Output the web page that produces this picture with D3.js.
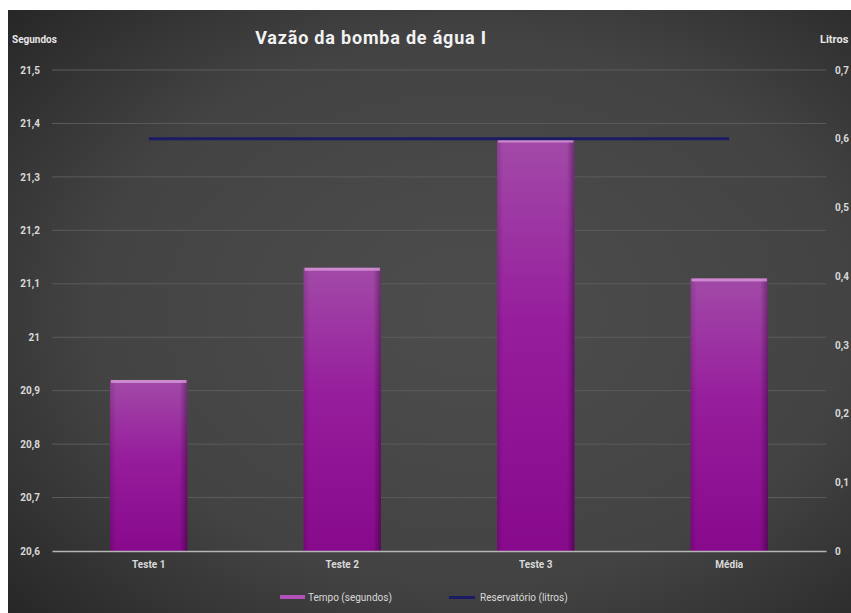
<!DOCTYPE html>
<html><head><meta charset="utf-8">
<script src="https://cdn.jsdelivr.net/npm/d3@7"></script>
<style>body{margin:0;background:#fff;}svg{display:block;}</style>
</head><body><svg id="c" width="851" height="613"></svg>
<script>
const categories = ["Teste 1","Teste 2","Teste 3","Média"];
const tempo = [20.92, 21.13, 21.37, 21.11];
const reservatorio = [0.6, 0.6, 0.6, 0.6];
const leftTicks = [20.6,20.7,20.8,20.9,21,21.1,21.2,21.3,21.4,21.5];
const rightTicks = [0,0.1,0.2,0.3,0.4,0.5,0.6,0.7];
const title = "Vazão da bomba de água I";

const svg = d3.select("#c");
const defs = svg.append("defs");
const bg = defs.append("radialGradient").attr("id","bg").attr("cx","55%").attr("cy","50%").attr("r","75%");
bg.append("stop").attr("offset","0%").attr("stop-color","#4d4d4d");
bg.append("stop").attr("offset","60%").attr("stop-color","#434343");
bg.append("stop").attr("offset","100%").attr("stop-color","#262626");
const bar = defs.append("linearGradient").attr("id","bar").attr("x1",0).attr("y1",0).attr("x2",0).attr("y2",1);
bar.append("stop").attr("offset","0%").attr("stop-color","#a24aa8");
bar.append("stop").attr("offset","45%").attr("stop-color","#961d9c");
bar.append("stop").attr("offset","100%").attr("stop-color","#870a8c");
const side = defs.append("linearGradient").attr("id","side").attr("x1",0).attr("y1",0).attr("x2",1).attr("y2",0);
side.append("stop").attr("offset","0%").attr("stop-color","#000").attr("stop-opacity",0.15);
side.append("stop").attr("offset","8%").attr("stop-color","#000").attr("stop-opacity",0);
side.append("stop").attr("offset","90%").attr("stop-color","#000").attr("stop-opacity",0);
side.append("stop").attr("offset","100%").attr("stop-color","#000").attr("stop-opacity",0.35);

svg.append("rect").attr("x",8).attr("y",10).attr("width",843).attr("height",603).attr("fill","url(#bg)");

const x0 = 52, x1 = 826, yTop = 70, yBot = 551;
const x = d3.scaleBand().domain(categories).range([x0,x1]).paddingInner(0.6).paddingOuter(0.3);
const yL = d3.scaleLinear().domain([20.6,21.5]).range([yBot,yTop]);
const yR = d3.scaleLinear().domain([0,0.7]).range([yBot,yTop]);
const fmt = d => d3.format(",")(d).replace(".",",");
const font = "Roboto, 'DejaVu Sans', sans-serif";

// gridlines
svg.append("g").selectAll("line").data(leftTicks.slice(1)).join("line")
  .attr("x1",x0).attr("x2",x1).attr("y1",d=>yL(d)).attr("y2",d=>yL(d))
  .attr("stroke","#5c5c5c").attr("stroke-width",1);

// left axis
const gl = svg.append("g").attr("transform",`translate(${x0},0)`)
  .call(d3.axisLeft(yL).tickValues(leftTicks).tickFormat(fmt).tickSize(0).tickPadding(12));
gl.select(".domain").remove();
gl.selectAll("text").attr("fill","#d9d9d9").attr("font-size",10).attr("font-weight","bold").attr("font-family",font);

// right axis
const gr = svg.append("g").attr("transform",`translate(${x1},0)`)
  .call(d3.axisRight(yR).tickValues(rightTicks).tickFormat(fmt).tickSize(0).tickPadding(9));
gr.select(".domain").remove();
gr.selectAll("text").attr("fill","#d9d9d9").attr("font-size",10).attr("font-weight","bold").attr("font-family",font);

// bars
const bars = svg.append("g").selectAll("g").data(categories).join("g");
bars.append("rect").attr("x",d=>x(d)).attr("y",(d,i)=>yL(tempo[i])).attr("width",x.bandwidth())
  .attr("height",(d,i)=>yBot-yL(tempo[i])).attr("fill","url(#bar)");
bars.append("rect").attr("x",d=>x(d)).attr("y",(d,i)=>yL(tempo[i])).attr("width",x.bandwidth())
  .attr("height",(d,i)=>yBot-yL(tempo[i])).attr("fill","url(#side)");
bars.append("rect").attr("x",d=>x(d)+1).attr("y",(d,i)=>yL(tempo[i])).attr("width",x.bandwidth()-2)
  .attr("height",3).attr("fill","#d89ad8").attr("opacity",0.8);

// bottom axis
const gb = svg.append("g").attr("transform",`translate(0,${yBot})`)
  .call(d3.axisBottom(x).tickSize(0).tickPadding(10));
gb.select(".domain").attr("stroke","#b5b5b5").attr("stroke-width",1.5);
gb.selectAll("text").attr("fill","#d9d9d9").attr("font-size",10).attr("font-weight","bold").attr("font-family",font);

// line
const line = d3.line().x((d,i)=>x(categories[i])+x.bandwidth()/2).y(d=>yR(d));
svg.append("path").datum(reservatorio).attr("d",line).attr("fill","none")
  .attr("stroke","#1b1b66").attr("stroke-width",3);

// titles
svg.append("text").attr("x",371).attr("y",44).attr("text-anchor","middle").attr("fill","#f2f2f2")
  .attr("font-family",font).attr("font-weight","bold").attr("font-size",18).attr("letter-spacing",0.8).text(title);
svg.append("text").attr("x",12).attr("y",43).attr("fill","#e6e6e6").attr("font-family",font)
  .attr("font-weight","bold").attr("font-size",10).text("Segundos");
svg.append("text").attr("x",820).attr("y",43).attr("fill","#e6e6e6").attr("font-family",font)
  .attr("font-weight","bold").attr("font-size",11).text("Litros");

// legend
const lg = svg.append("g").attr("font-family",font).attr("font-size",10).attr("fill","#d9d9d9");
lg.append("rect").attr("x",280).attr("y",595).attr("width",25).attr("height",4).attr("fill","#b050b8");
lg.append("text").attr("x",308).attr("y",601).text("Tempo (segundos)");
lg.append("rect").attr("x",449).attr("y",596).attr("width",26).attr("height",3).attr("fill","#1b1b66");
lg.append("text").attr("x",480).attr("y",601).text("Reservatório (litros)");
</script></body></html>
